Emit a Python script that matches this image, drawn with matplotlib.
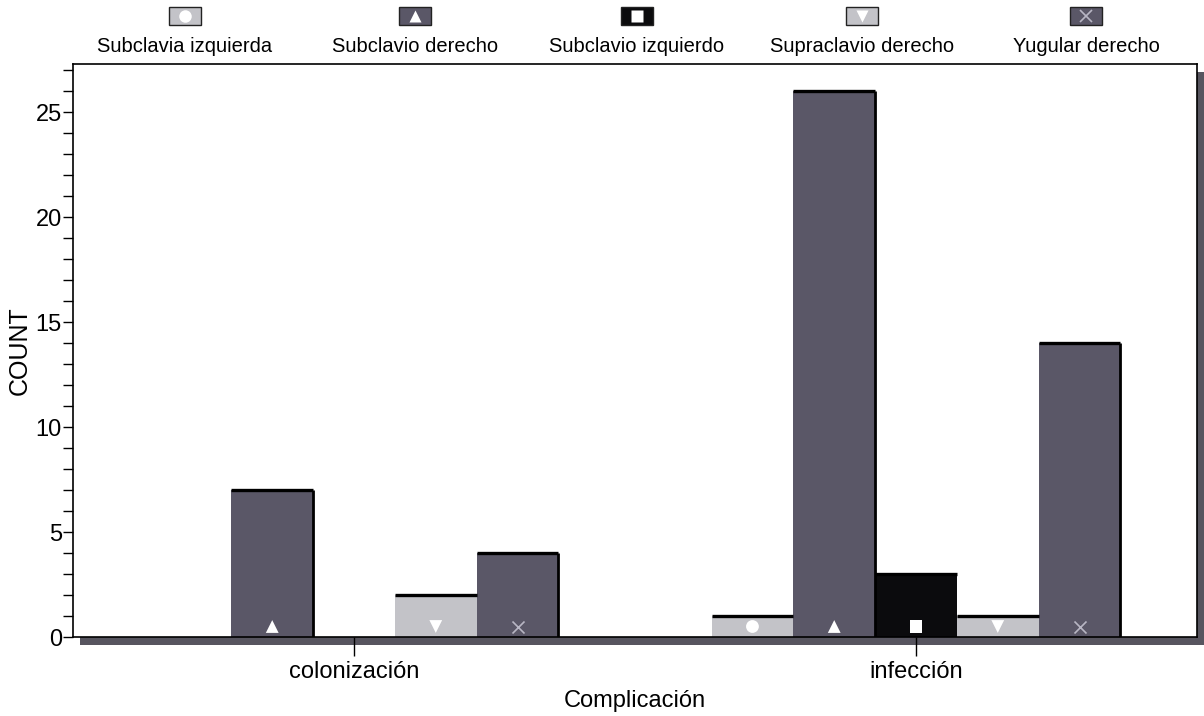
import matplotlib
matplotlib.use("Agg")
import matplotlib.pyplot as plt
import numpy as np
from matplotlib.patches import Rectangle
from matplotlib.transforms import ScaledTranslation
from matplotlib.lines import Line2D

plt.rcParams['font.family'] = ['Liberation Sans', 'DejaVu Sans']

# Data
categories = ['colonización', 'infección']
series_names = ['Subclavia izquierda', 'Subclavio derecho', 'Subclavio izquierdo',
                'Supraclavio derecho', 'Yugular derecho']
subclavia_izquierda = [0, 1]
subclavio_derecho = [7, 26]
subclavio_izquierdo = [0, 3]
supraclavio_derecho = [2, 1]
yugular_derecho = [4, 14]
series_values = [subclavia_izquierda, subclavio_derecho, subclavio_izquierdo,
                 supraclavio_derecho, yugular_derecho]

# Styles
LIGHT = '#c3c3c8'
DARK = '#5a5767'
BLACK = '#0b0b0d'
colors = [LIGHT, DARK, BLACK, LIGHT, DARK]
markers = ['o', '^', 's', 'v', 'x']
marker_colors = ['white', 'white', 'white', 'white', '#b8b6c4']
right_edge = [False, True, False, False, True]

W, H = 1204, 716
fig = plt.figure(figsize=(W / 100, H / 100), dpi=100)
ax = fig.add_axes([73 / W, 1 - 637 / H, (1197 - 73) / W, (637 - 64) / H])

# drop shadow behind the plot frame
shadow = Rectangle((0, 0), 1, 1,
                   transform=ax.transAxes + ScaledTranslation(7 / 100, -8 / 100, fig.dpi_scale_trans),
                   facecolor='#57555f', edgecolor='none', zorder=-5)
fig.patches.append(shadow)
ax.set_zorder(1)
ax.patch.set_facecolor('white')

x = np.arange(len(categories))
w = 0.1455
for i, (vals, c) in enumerate(zip(series_values, colors)):
    pos = x + (i - 2) * w
    vals = np.asarray(vals, dtype=float)
    ax.bar(pos, vals, width=w, color=c, edgecolor='none', zorder=2)
    shown = vals > 0
    ax.hlines(vals[shown], pos[shown] - w / 2, pos[shown] + w / 2, colors='black', lw=2.4, zorder=3)
    if right_edge[i]:
        ax.vlines(pos[shown] + w / 2, 0, vals[shown], colors='black', lw=2.0, zorder=3)
    mk_pos = pos[shown]
    if i == 4:
        ax.scatter(mk_pos, np.full(mk_pos.shape, 0.5), marker='x', s=75, c=marker_colors[i],
                   linewidths=1.2, zorder=4)
    else:
        ax.scatter(mk_pos, np.full(mk_pos.shape, 0.5), marker=markers[i], s=85, c=marker_colors[i],
                   edgecolors='none', zorder=4)

ax.set_xlim(-0.5, 1.5)
ax.set_ylim(0, 27.3)
ax.set_yticks([0, 5, 10, 15, 20, 25])
ax.set_yticks(np.arange(0, 28, 1), minor=True)
ax.set_xticks(x)
ax.set_xticklabels(categories)
ax.tick_params(axis='y', which='both', direction='out', length=7, width=1.0, labelsize=17, pad=1)
ax.tick_params(axis='x', which='major', direction='out', length=14, width=1.0, labelsize=17, pad=3)
for s in ax.spines.values():
    s.set_linewidth(1.2)
    s.set_color('black')

ax.set_xlabel('Complicación', fontsize=17, labelpad=5)
ax.set_ylabel('COUNT', fontsize=18, labelpad=3)

# legend row across the top
leg_x = [185, 415, 637, 862, 1086]
for xc, name, c, m, mc in zip(leg_x, series_names, colors, markers, marker_colors):
    fx = xc / W
    rect = Rectangle((fx - 16 / W, 1 - 25 / H), 32 / W, 18 / H, transform=fig.transFigure,
                     facecolor=c, edgecolor='#222222', lw=1.0)
    fig.patches.append(rect)
    if m == 'x':
        fig.add_artist(Line2D([fx], [1 - 16 / H], marker='x', markersize=8, color=mc, mew=1.2,
                              transform=fig.transFigure, linestyle='none'))
    else:
        fig.add_artist(Line2D([fx], [1 - 16 / H], marker=m, markersize=9, color=mc, mec='none',
                              transform=fig.transFigure, linestyle='none'))
    fig.text(fx, 1 - 47 / H, name, ha='center', va='center', fontsize=14.5)

fig.savefig('out.png', dpi=100, facecolor='white')
